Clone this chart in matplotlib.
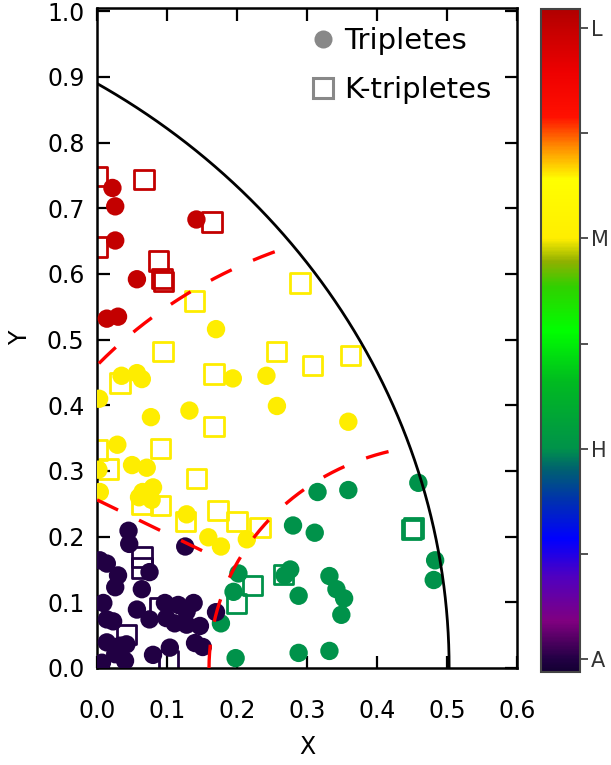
import numpy as np
import matplotlib.pyplot as plt
from matplotlib.colors import LinearSegmentedColormap, Normalize
from matplotlib.cm import ScalarMappable
from matplotlib.lines import Line2D

plt.rcParams['font.family'] = ['DejaVu Sans']

# Tripletes (circulos), por nivel
tri_L_x = [0.022, 0.026, 0.026, 0.142, 0.057, 0.014, 0.030]
tri_L_y = [0.731, 0.703, 0.651, 0.683, 0.592, 0.532, 0.535]

tri_M_x = [0.170, 0.035, 0.057, 0.064, 0.003, 0.194, 0.242, 0.257, 0.132, 0.077,
           0.359, 0.029, 0.050, 0.071, 0.002, 0.004, 0.065, 0.080, 0.078, 0.060,
           0.128, 0.159, 0.177, 0.214]
tri_M_y = [0.516, 0.445, 0.449, 0.440, 0.410, 0.441, 0.445, 0.399, 0.392, 0.382,
           0.375, 0.340, 0.309, 0.305, 0.302, 0.268, 0.268, 0.275, 0.256, 0.260,
           0.234, 0.199, 0.185, 0.196]

tri_H_x = [0.315, 0.359, 0.459, 0.280, 0.311, 0.483, 0.481, 0.202, 0.276, 0.268,
           0.332, 0.342, 0.353, 0.349, 0.288, 0.195, 0.177, 0.198, 0.288, 0.332]
tri_H_y = [0.268, 0.271, 0.282, 0.217, 0.206, 0.164, 0.134, 0.144, 0.150, 0.141,
           0.140, 0.120, 0.106, 0.081, 0.110, 0.116, 0.068, 0.015, 0.023, 0.026]

tri_A_x = [0.045, 0.046, 0.126, 0.014, 0.004, 0.030, 0.026, 0.075, 0.064, 0.009,
           0.057, 0.075, 0.097, 0.116, 0.138, 0.128, 0.099, 0.111, 0.128, 0.147,
           0.170, 0.014, 0.023, 0.014, 0.033, 0.042, 0.026, 0.040, 0.007, 0.080,
           0.104, 0.140, 0.151]
tri_A_y = [0.209, 0.189, 0.185, 0.159, 0.164, 0.141, 0.123, 0.146, 0.120, 0.099,
           0.089, 0.074, 0.099, 0.096, 0.099, 0.086, 0.076, 0.068, 0.066, 0.064,
           0.085, 0.074, 0.071, 0.039, 0.034, 0.036, 0.021, 0.011, 0.008, 0.020,
           0.031, 0.038, 0.032]

# K-tripletes (cuadrados), por nivel
ktri_L_x = [0.000, 0.067, 0.164, 0.000, 0.088, 0.093, 0.095]
ktri_L_y = [0.748, 0.744, 0.679, 0.641, 0.620, 0.593, 0.589]

ktri_M_x = [0.139, 0.290, 0.094, 0.256, 0.308, 0.362, 0.167, 0.033, 0.167, 0.091,
            0.000, 0.016, 0.142, 0.064, 0.091, 0.126, 0.173, 0.200, 0.233]
ktri_M_y = [0.559, 0.586, 0.482, 0.482, 0.461, 0.476, 0.448, 0.434, 0.368, 0.334,
            0.332, 0.303, 0.289, 0.250, 0.247, 0.223, 0.240, 0.223, 0.214]

ktri_H_x = [0.449, 0.452, 0.222, 0.199, 0.266]
ktri_H_y = [0.211, 0.213, 0.126, 0.098, 0.142]

ktri_A_x = [0.064, 0.064, 0.090, 0.042, 0.102]
ktri_A_y = [0.169, 0.152, 0.092, 0.051, 0.011]

# valor de cada nivel en la barra de color
LEVELS = {'A': 0.0, 'H': 1 / 3, 'M': 2 / 3, 'L': 1.0}
LEVEL_TICKS = [0.0, 1 / 3, 2 / 3, 1.0]
LEVEL_NAMES = ['A', 'H', 'M', 'L']

# curvas: circulo exterior y fronteras entre niveles
BORDER_CENTER = (-0.536, 0.0)
BORDER_RADIUS = 1.039
ARC_CENTER = (0.5, 0.0)
ARC_RADII = [0.34, 0.68]
ARC_SPANS = [(104, 180), (109, 137)]     # grados
SEG_X = [0.0, 0.165]
SEG_Y = [0.256, 0.171]

# mapa de color tipo arcoiris
VMIN, VMAX = -0.02, 1.03
stops = [(-0.02, '#140033'), (0.0, '#220044'), (0.06, '#800080'), (0.13, '#5000c0'),
         (0.19, '#0000ff'), (0.25, '#0030b0'), (0.30, '#006070'), (1 / 3, '#00924a'),
         (0.44, '#00bb20'), (0.52, '#00ff00'), (0.59, '#30d000'), (0.63, '#90b000'),
         (2 / 3, '#ffee00'), (0.76, '#ffff00'), (0.81, '#ff9000'), (0.86, '#ff1000'),
         (0.93, '#ee0000'), (1.0, '#c40000'), (1.03, '#b00000')]
cmap = LinearSegmentedColormap.from_list(
    'niveles', [((v - VMIN) / (VMAX - VMIN), c) for v, c in stops], N=512)
norm = Normalize(VMIN, VMAX)

fig = plt.figure(figsize=(6.11, 7.65), dpi=100)
ax = fig.add_axes([0.1588, 0.1268, 0.6874, 0.8627])

# primero los cuadrados, luego los circulos encima
squares = [(ktri_L_x, ktri_L_y, 'L'), (ktri_M_x, ktri_M_y, 'M'),
           (ktri_H_x, ktri_H_y, 'H'), (ktri_A_x, ktri_A_y, 'A')]
for xs, ys, lvl in squares:
    col = cmap(norm(LEVELS[lvl]))
    ax.scatter(xs, ys, s=195, marker='s', facecolors='none', edgecolors=[col],
               linewidths=2.0, zorder=2)

circles = [(tri_L_x, tri_L_y, 'L'), (tri_M_x, tri_M_y, 'M'),
           (tri_H_x, tri_H_y, 'H'), (tri_A_x, tri_A_y, 'A')]
for xs, ys, lvl in circles:
    ax.scatter(xs, ys, s=175, marker='o', c=[LEVELS[lvl]] * len(xs), cmap=cmap,
               norm=norm, linewidths=0, zorder=3)

# circulo exterior
th0 = np.arccos((0.0 - BORDER_CENTER[0]) / BORDER_RADIUS)
th = np.linspace(0, th0, 300)
ax.plot(BORDER_CENTER[0] + BORDER_RADIUS * np.cos(th),
        BORDER_CENTER[1] + BORDER_RADIUS * np.sin(th), color='black', lw=2.0, zorder=4)

# fronteras discontinuas
for r, (a0, a1) in zip(ARC_RADII, ARC_SPANS):
    t = np.radians(np.linspace(a1, a0, 200))
    ax.plot(ARC_CENTER[0] + r * np.cos(t), ARC_CENTER[1] + r * np.sin(t),
            color='#ff0000', lw=2.4, dashes=(7, 7), zorder=4)
ax.plot(SEG_X, SEG_Y, color='#ff0000', lw=2.4, dashes=(7, 7), zorder=4)

ax.set_xlim(0, 0.6)
ax.set_ylim(0, 1.005)
ax.set_xticks(np.arange(0, 0.61, 0.1))
ax.set_yticks(np.arange(0, 1.01, 0.1))
ax.set_xticklabels([f'{v:.1f}' for v in np.arange(0, 0.61, 0.1)])
ax.set_yticklabels([f'{v:.1f}' for v in np.arange(0, 1.01, 0.1)])
ax.tick_params(direction='in', length=9, width=1.6, top=True, right=True, labelsize=17)
ax.tick_params(axis='x', pad=22)
ax.tick_params(axis='y', pad=9)
for sp in ax.spines.values():
    sp.set_linewidth(1.8)
ax.set_xlabel('X', fontsize=17, labelpad=9)
ax.set_ylabel('Y', fontsize=17, labelpad=11)

# leyenda en gris
handles = [Line2D([], [], ls='none', marker='o', ms=13, mfc='#888888', mec='none'),
           Line2D([], [], ls='none', marker='s', ms=15, mfc='none', mec='#888888', mew=2.2)]
ax.legend(handles, ['Tripletes', 'K-tripletes'], loc='upper right', frameon=False,
          fontsize=21, handletextpad=0.25, labelspacing=0.72, borderaxespad=0.25,
          handlelength=1.0, bbox_to_anchor=(0.985, 1.0))

# barra de color
cax = fig.add_axes([0.8855, 0.1216, 0.0638, 0.867])
cb = fig.colorbar(ScalarMappable(norm=norm, cmap=cmap), cax=cax, ticks=LEVEL_TICKS)
cb.set_ticklabels(LEVEL_NAMES)
cb.ax.set_yticks([1 / 6, 0.5, 5 / 6], minor=True)
cb.ax.tick_params(which='both', direction='out', length=6, width=1.2, colors='#333333',
                  labelsize=15, pad=2)
cb.outline.set_linewidth(1.5)
cb.outline.set_edgecolor('#444444')

fig.savefig('out.png', dpi=100)
